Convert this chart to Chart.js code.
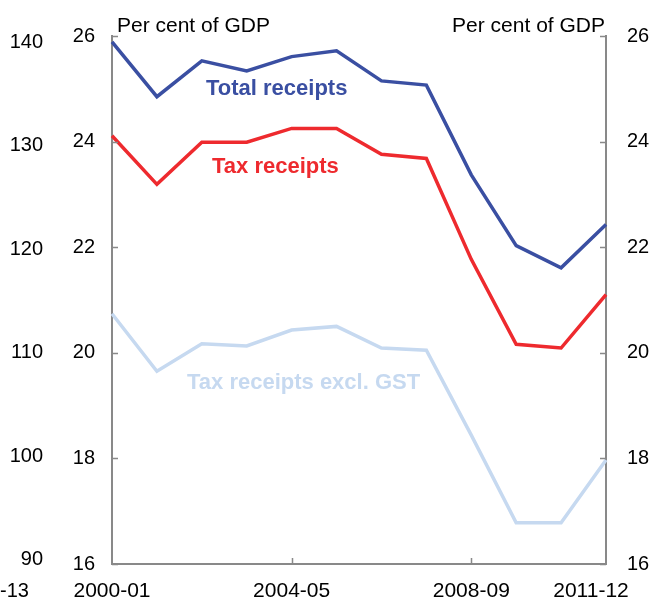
<!DOCTYPE html>
<html>
<head>
<meta charset="utf-8">
<script src="https://cdn.jsdelivr.net/npm/chart.js@4.4.1/dist/chart.umd.min.js"></script>
<style>
  html, body { margin: 0; padding: 0; background: #fff; }
  #wrap { position: relative; width: 658px; height: 602px; }
</style>
</head>
<body>
<div id="wrap"><canvas id="chart"></canvas></div>
<script>
/* ===== Receipts as a share of GDP ===== */
const years = ["2000-01", "2001-02", "2002-03", "2003-04", "2004-05", "2005-06",
  "2006-07", "2007-08", "2008-09", "2009-10", "2010-11", "2011-12"];
const totalReceipts = [25.89, 24.85, 25.53, 25.34, 25.61, 25.72, 25.15, 25.07, 23.37, 22.03, 21.61, 22.43];
const taxReceipts = [24.11, 23.19, 23.99, 23.99, 24.25, 24.25, 23.76, 23.68, 21.77, 20.16, 20.09, 21.10];
const taxExclGst = [20.74, 19.65, 20.17, 20.13, 20.43, 20.50, 20.09, 20.05, 18.44, 16.78, 16.78, 17.97];
const shownYears = ["2000-01", "2004-05", "2008-09", "2011-12"];
const tickedYears = ["2004-05", "2008-09"];
// leftover right-axis labels of the neighbouring panel
const strayLabels = ["140", "130", "120", "110", "100", "90"];

const FONT = "'Liberation Sans', Arial, sans-serif";
const axisGrey = "#898989";
const BLUE = "#3A4FA2";
const RED = "#EE2A2E";
const LIGHT = "#C6D9F0";

/* =========================================
   DRAWING HELPERS
   ========================================= */
const extras = {
  id: "extras",
  afterDraw(chart) {
    const { ctx, scales } = chart;
    const x = scales.x, y = scales.y;
    const left = x.left, right = x.right, bottom = y.bottom;
    ctx.save();

    // inward tick marks
    ctx.strokeStyle = axisGrey;
    ctx.lineWidth = 1.5;
    ctx.beginPath();
    for (let v = 16; v <= 26; v += 2) {
      const py = Math.round(y.getPixelForValue(v)) + 0.5;
      ctx.moveTo(left, py); ctx.lineTo(left + 6, py);
      ctx.moveTo(right - 6, py); ctx.lineTo(right, py);
    }
    tickedYears.forEach(lbl => {
      const px = Math.round(x.getPixelForValue(years.indexOf(lbl))) + 0.5;
      ctx.moveTo(px, bottom); ctx.lineTo(px, bottom - 6);
    });
    ctx.stroke();

    // category labels
    ctx.fillStyle = "#000";
    ctx.font = `21px ${FONT}`;
    ctx.textBaseline = "middle";
    ctx.textAlign = "center";
    shownYears.forEach((lbl, i) => {
      let px = x.getPixelForValue(years.indexOf(lbl));
      if (i === shownYears.length - 1) px -= 15;
      ctx.fillText(lbl, px, 591);
    });

    // units
    ctx.font = `21px ${FONT}`;
    ctx.textBaseline = "alphabetic";
    ctx.textAlign = "left";
    ctx.fillText("Per cent of GDP", 117, 32);
    ctx.textAlign = "right";
    ctx.fillText("Per cent of GDP", 605, 32);

    // stray labels from the neighbouring chart
    ctx.font = `20px ${FONT}`;
    ctx.textBaseline = "middle";
    strayLabels.forEach((t, i) => ctx.fillText(t, 43, 42 + i * 103.5));
    ctx.textAlign = "left";
    ctx.fillText("-13", 0, 591);

    // series labels
    ctx.font = `bold 22px ${FONT}`;
    ctx.textBaseline = "alphabetic";
    ctx.fillStyle = BLUE;
    ctx.fillText("Total receipts", 206, 95);
    ctx.fillStyle = RED;
    ctx.fillText("Tax receipts", 212, 173);
    ctx.fillStyle = LIGHT;
    ctx.fillText("Tax receipts excl. GST", 187, 389);
    ctx.restore();
  },
};

const lineDs = (label, data, color) => ({
  label, data,
  borderColor: color,
  backgroundColor: color,
  borderWidth: 3.5,
  pointRadius: 0,
  tension: 0,
  clip: false,
  borderJoinStyle: "miter",
});

const yAxis = (position, padding, width) => ({
  position,
  min: 16,
  max: 26,
  grid: { display: false, drawTicks: false },
  border: { color: axisGrey, width: 2 },
  ticks: { stepSize: 2, padding, color: "#000", font: { family: FONT, size: 20 } },
  afterFit: (s) => { s.width = width; },
});

new Chart(document.getElementById("chart"), {
  type: "line",
  data: {
    labels: years,
    datasets: [
      lineDs("Tax receipts excl. GST", taxExclGst, LIGHT),
      lineDs("Tax receipts", taxReceipts, RED),
      lineDs("Total receipts", totalReceipts, BLUE),
    ],
  },
  options: {
    responsive: true,
    maintainAspectRatio: false,
    animation: false,
    layout: { padding: { top: 36, bottom: 0, left: 0, right: 0 } },
    plugins: { legend: { display: false }, tooltip: { enabled: false } },
    scales: {
      x: {
        offset: false,
        grid: { display: false, drawTicks: false },
        border: { color: axisGrey, width: 2 },
        ticks: { display: false },
        afterFit: (s) => { s.height = 38; },
      },
      y: yAxis("left", 17, 112),
      y2: yAxis("right", 21, 52),
    },
  },
  plugins: [extras],
});
</script>
</body>
</html>
